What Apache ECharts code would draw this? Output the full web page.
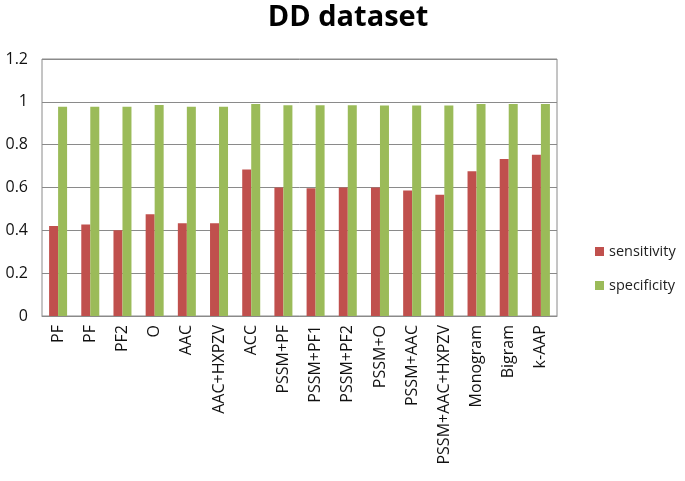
<!DOCTYPE html>
<html>
<head>
<meta charset="utf-8">
<script src="https://cdn.jsdelivr.net/npm/echarts@6/dist/echarts.min.js"></script>
<style>html,body{margin:0;padding:0;background:#fff;}#c{width:685px;height:481px;}</style>
</head>
<body>
<div id="c"></div>
<script>
var categories = ['PF','PF','PF2','O','AAC','AAC+HXPZV','ACC','PSSM+PF','PSSM+PF1','PSSM+PF2','PSSM+O','PSSM+AAC','PSSM+AAC+HXPZV','Monogram','Bigram','k-AAP'];
var sensitivity = [0.42,0.427,0.40,0.475,0.433,0.433,0.684,0.60,0.597,0.60,0.60,0.586,0.566,0.676,0.733,0.753];
var specificity = [0.977,0.977,0.977,0.985,0.977,0.977,0.99,0.984,0.984,0.984,0.983,0.983,0.983,0.99,0.99,0.99];
var yTicks = [0,0.2,0.4,0.6,0.8,1,1.2];

var chart = echarts.init(document.getElementById('c'));
var font = 'Open Sans';
chart.setOption({
  animation: false,
  backgroundColor: '#fff',
  title: {
    text: 'DD dataset', left: 343, top: -2, textAlign: 'center',
    textStyle: {fontFamily: font, fontSize: 29, fontWeight: 'bold', color: '#000'}
  },
  legend: {
    orient: 'vertical', left: 590, top: 239, itemWidth: 9, itemHeight: 9, itemGap: 19,
    icon: 'rect',
    textStyle: {fontFamily: font, fontSize: 14.5, color: '#222'},
    data: ['sensitivity','specificity']
  },
  grid: {left: 42, right: 128, top: 59, bottom: 165, show: true, borderColor: '#8a8a8a', borderWidth: 1},
  xAxis: {
    type: 'category', data: categories,
    axisLine: {lineStyle: {color: '#8a8a8a'}},
    axisTick: {show: false},
    axisLabel: {rotate: 90, interval: 0, fontFamily: font, fontSize: 16, color: '#111', margin: 9}
  },
  yAxis: {
    type: 'value', min: 0, max: 1.2, interval: 0.2,
    axisLine: {show: false}, axisTick: {show: false},
    splitLine: {lineStyle: {color: '#8a8a8a', width: 1}},
    axisLabel: {fontFamily: font, fontSize: 16, color: '#111', margin: 14,
      formatter: function(v){ var t = yTicks.filter(function(x){return Math.abs(x-v)<1e-6;}); return t.length ? String(+v.toFixed(1)) : ''; }}
  },
  series: [
    {name: 'sensitivity', type: 'bar', data: sensitivity, barWidth: 9, barGap: '0%', itemStyle: {color: '#C0504D'}},
    {name: 'specificity', type: 'bar', data: specificity, barWidth: 9, barGap: '0%', itemStyle: {color: '#9BBB59'}}
  ]
});
</script>
</body>
</html>
